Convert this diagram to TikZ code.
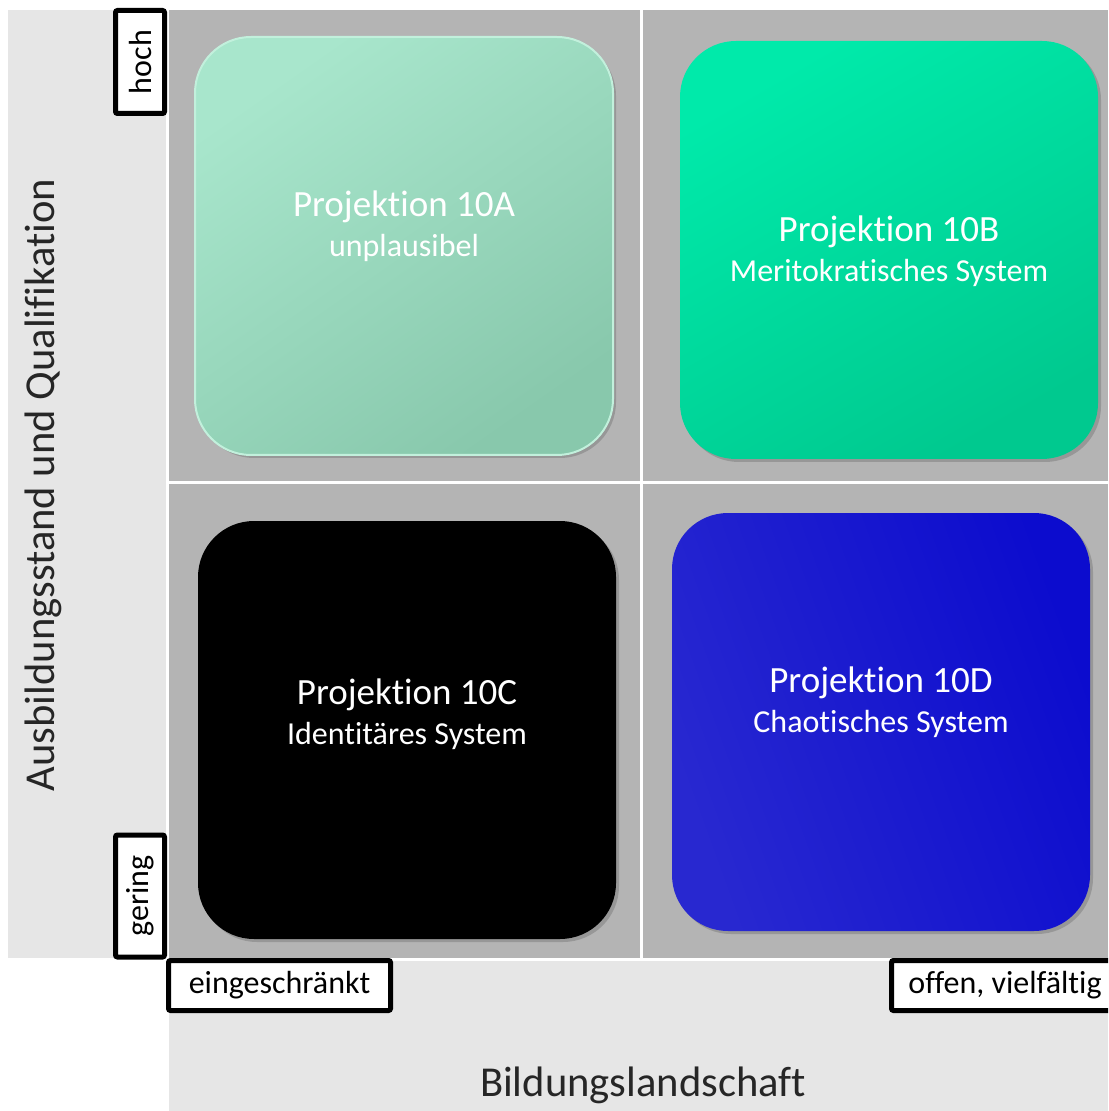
\documentclass[tikz,border=0pt]{standalone}
\usepackage{fontspec}
\setmainfont{Carlito}[Ligatures=NoCommon]
\usetikzlibrary{shadows}

\definecolor{bandgray}{HTML}{E6E6E6}
\definecolor{fieldgray}{HTML}{B4B4B4}
\definecolor{mintlight}{HTML}{A8E6CC}
\definecolor{mintdark}{HTML}{88C8AC}
\definecolor{mintrim}{HTML}{C2F0DC}
\definecolor{greenlight}{HTML}{00EAAA}
\definecolor{greendark}{HTML}{00C98F}
\definecolor{bluelight}{HTML}{2828D0}
\definecolor{bluemid}{HTML}{1616E0}
\definecolor{bluedark}{HTML}{0C0CCE}

\tikzset{
  quad/.style={rounded corners=28pt, minimum width=209pt, minimum height=209pt,
               inner sep=0pt, drop shadow={shadow xshift=1.5pt, shadow yshift=-1.5pt, opacity=.55}},
  quadtext/.style={text=white, align=center, font=\fontsize{18.5}{20}\selectfont},
  tag/.style={draw=black, line width=2.5pt, fill=white, inner sep=0pt,
              rounded corners=1pt, font=\fontsize{16}{17}\selectfont},
  axislabel/.style={text=black!85, font=\fontsize{21.3}{24}\selectfont}
}

\begin{document}
\begin{tikzpicture}[x=0.5pt, y=-0.5pt]
\useasboundingbox (0,0) rectangle (1108,1111);
\clip (0,0) rectangle (1108,1111);

% background bands and field
\fill[bandgray] (8,10) rectangle (166,958);
\fill[bandgray] (169,961) rectangle (1108,1111);
\fill[fieldgray] (169,10) rectangle (1108,958);
\draw[white, line width=1.5pt] (641,10) -- (641,958);
\draw[white, line width=1.5pt] (169,482) -- (1108,482);

% the four projections
\node[quad, draw=mintrim, line width=1pt, top color=mintlight, bottom color=mintdark,
      shading angle=35] (pA) at (404,246) {};
\node[quad, top color=greenlight, bottom color=greendark, shading angle=30] (pB) at (889,250) {};
\node[quad, fill=black] (pC) at (407,730) {};
\node[quad, left color=bluelight, middle color=bluemid, right color=bluedark,
      shading angle=110] (pD) at (881,722) {};

\node[quadtext] (tA) at (pA.center) [yshift=10pt] {Projektion 10A\\{\fontsize{16}{17}\selectfont unplausibel}};
\node[quadtext] (tB) at (pB.center) [yshift=-0.5pt] {Projektion 10B\\{\fontsize{16}{17}\selectfont Meritokratisches System}};
\node[quadtext] (tC) at (pC.center) [yshift=8pt] {Projektion 10C\\{\fontsize{16}{17}\selectfont Identitäres System}};
\node[quadtext] (tD) at (pD.center) [yshift=10pt] {Projektion 10D\\{\fontsize{16}{17}\selectfont Chaotisches System}};

% axis tags
\node[tag, rotate=90, minimum width=51.5pt, minimum height=24.5pt] (hoch) at (140,62) {hoch};
\node[tag, rotate=90, minimum width=61pt, minimum height=24.5pt] (gering) at (140,896) {gering};
\node[tag, minimum width=111pt, minimum height=25pt] (eing) at (279.5,985.5) {eingeschränkt\hspace{6pt}};
\node[tag, minimum width=113.5pt, minimum height=25pt] (offen) at (1005,985.5) {offen, vielfältig};

% axis labels
\node[axislabel, rotate=90] (ylab) at (43,485) {Ausbildungsstand und Qualifikation};
\node[axislabel] (xlab) at (643,1085) {Bildungslandschaft};
\end{tikzpicture}
\end{document}
